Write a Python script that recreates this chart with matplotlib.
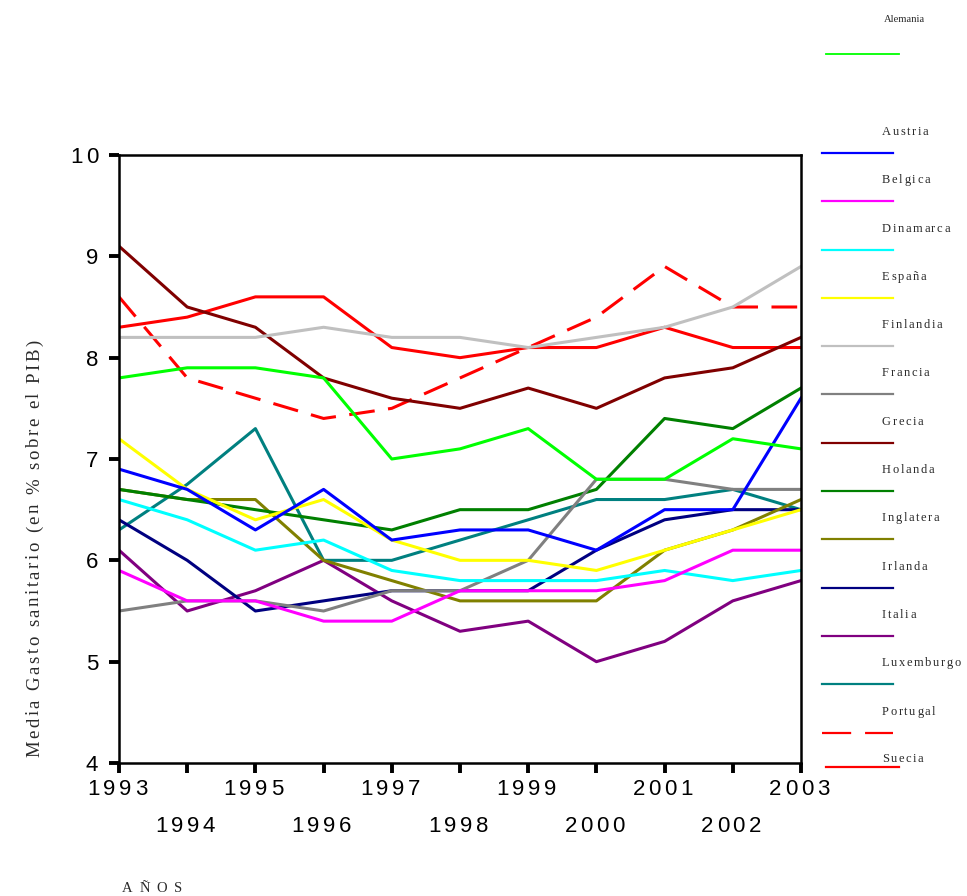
import matplotlib
matplotlib.use("Agg")
import matplotlib.pyplot as plt
from matplotlib import font_manager
from matplotlib.lines import Line2D
import numpy as np

plt.rcParams['font.family'] = ['Liberation Sans', 'DejaVu Sans']
plt.rcParams['lines.scale_dashes'] = False

# datos: gasto sanitario medio (% del PIB), 1993-2003
years = list(range(1993, 2004))
alemania   = [7.8, 7.9, 7.9, 7.8, 7.0, 7.1, 7.3, 6.8, 6.8, 7.2, 7.1]
austria    = [6.9, 6.7, 6.3, 6.7, 6.2, 6.3, 6.3, 6.1, 6.5, 6.5, 7.6]
belgica    = [5.9, 5.6, 5.6, 5.4, 5.4, 5.7, 5.7, 5.7, 5.8, 6.1, 6.1]
dinamarca  = [6.6, 6.4, 6.1, 6.2, 5.9, 5.8, 5.8, 5.8, 5.9, 5.8, 5.9]
espana     = [7.2, 6.7, 6.4, 6.6, 6.2, 6.0, 6.0, 5.9, 6.1, 6.3, 6.5]
finlandia  = [8.2, 8.2, 8.2, 8.3, 8.2, 8.2, 8.1, 8.2, 8.3, 8.5, 8.9]
francia    = [5.5, 5.6, 5.6, 5.5, 5.7, 5.7, 6.0, 6.8, 6.8, 6.7, 6.7]
grecia     = [9.1, 8.5, 8.3, 7.8, 7.6, 7.5, 7.7, 7.5, 7.8, 7.9, 8.2]
holanda    = [6.7, 6.6, 6.5, 6.4, 6.3, 6.5, 6.5, 6.7, 7.4, 7.3, 7.7]
inglatera  = [6.7, 6.6, 6.6, 6.0, 5.8, 5.6, 5.6, 5.6, 6.1, 6.3, 6.6]
irlanda    = [6.4, 6.0, 5.5, 5.6, 5.7, 5.7, 5.7, 6.1, 6.4, 6.5, 6.5]
italia     = [6.1, 5.5, 5.7, 6.0, 5.6, 5.3, 5.4, 5.0, 5.2, 5.6, 5.8]
luxemburgo = [6.3, 6.75, 7.3, 6.0, 6.0, 6.2, 6.4, 6.6, 6.6, 6.7, 6.5]
portugal   = [8.6, 7.8, 7.6, 7.4, 7.5, 7.8, 8.1, 8.4, 8.9, 8.5, 8.5]
suecia     = [8.3, 8.4, 8.6, 8.6, 8.1, 8.0, 8.1, 8.1, 8.3, 8.1, 8.1]

names = ['Alemania', 'Austria', 'Belgica', 'Dinamarca', 'España', 'Finlandia',
         'Francia', 'Grecia', 'Holanda', 'Inglatera', 'Irlanda', 'Italia',
         'Luxemburgo', 'Portugal', 'Suecia']
values = [alemania, austria, belgica, dinamarca, espana, finlandia, francia,
          grecia, holanda, inglatera, irlanda, italia, luxemburgo, portugal, suecia]
colors = ['#00ff00', '#0000ff', '#ff00ff', '#00ffff', '#ffff00', '#c0c0c0',
          '#808080', '#800000', '#008000', '#808000', '#000080', '#800080',
          '#008080', '#ff0000', '#ff0000']
y_ticks = [4, 5, 6, 7, 8, 9, 10]

W, H, DPI = 967, 896, 100
DASH = (18.5, 9.7)


def advances(text, size, family):
    fp = font_manager.FontProperties(family=family, size=size)
    font = font_manager.get_font(font_manager.findfont(fp))
    font.set_size(size, DPI)
    return [font.load_char(ord(ch)).linearHoriAdvance / 65536 for ch in text]


def tracked(fig, x, y, text, size, track=0.0, length=None, vertical=False,
            align='left', family='Liberation Serif', color='#2a2a2a'):
    # texto con espaciado entre letras, coordenadas en pixeles desde arriba
    adv = advances(text, size, family)
    if length is not None:
        track = (length - sum(adv)) / (len(text) - 1)
    total = sum(adv) + track * (len(text) - 1)
    pos = {'left': 0.0, 'center': -total / 2, 'right': -total}[align]
    for ch, a in zip(text, adv):
        if ch != ' ':
            if vertical:
                fig.text(x / W, 1 - (y - pos) / H, ch, rotation=90,
                         rotation_mode='anchor', ha='left', va='baseline',
                         fontsize=size, family=family, color=color)
            else:
                fig.text((x + pos) / W, 1 - y / H, ch, ha='left', va='baseline',
                         fontsize=size, family=family, color=color)
        pos += a + track


fig = plt.figure(figsize=(W / DPI, H / DPI), dpi=DPI)
ax = fig.add_axes([119 / W, 1 - 763 / H, (801 - 119) / W, (763 - 155) / H])

# el primero de la leyenda queda encima
for i in range(len(names) - 1, -1, -1):
    kw = dict(color=colors[i], lw=2.2, zorder=10 + len(names) - i)
    if names[i] == 'Portugal':
        kw['dashes'] = DASH
    ax.plot(years, values[i], **kw)

ax.set_xlim(years[0], years[-1])
ax.set_ylim(y_ticks[0], y_ticks[-1])
ax.set_yticks(y_ticks)
ax.set_xticks(years[::2])
ax.set_xticks(years[1::2], minor=True)
ax.yaxis.set_minor_locator(matplotlib.ticker.NullLocator())

ax.tick_params(axis='both', which='both', direction='out', length=7.5,
               width=2.8, colors='black', labelbottom=False, labelleft=False)
for sp in ax.spines.values():
    sp.set_linewidth(1.8)
    sp.set_color('black')
    sp.set_zorder(50)

# rotulos de las marcas, con espaciado entre cifras
TICK_FONT, TICK_TRACK = 16, 3.5
for v in y_ticks:
    px, py = ax.transData.transform((years[0], v))
    tracked(fig, px - 21, H - py + 8, str(v), TICK_FONT, track=TICK_TRACK,
            align='right', family='Liberation Sans', color='black')
for k, yr in enumerate(years):
    px, py = ax.transData.transform((yr, y_ticks[0]))
    base = H - py + (32 if k % 2 == 0 else 69)
    tracked(fig, px - 2, base, str(yr), TICK_FONT, track=TICK_TRACK,
            align='center', family='Liberation Sans', color='black')

# etiquetas de los ejes
tracked(fig, 39, 757, 'Media Gasto sanitario (en % sobre el PIB)', 13.5,
        length=417, vertical=True)
tracked(fig, 122, 892, 'AÑOS', 10.5, length=60)

# leyenda
fig.text(884 / W, 1 - 22 / H, names[0], fontsize=7.6,
         family='Liberation Serif', color='#2a2a2a', ha='left', va='baseline')
fig.add_artist(Line2D([826 / W, 899 / W], [1 - 54 / H] * 2, color=colors[0],
                      lw=1.3, transform=fig.transFigure))
for k, name in enumerate(names[1:-1]):
    i = k + 1
    ly = 153 + 48.3 * k
    tracked(fig, 882, ly - 18, name, 9, track=1.6)
    kw = dict(color=colors[i], lw=1.6, transform=fig.transFigure)
    if name == 'Portugal':
        kw['dashes'] = (21, 10)
    fig.add_artist(Line2D([822 / W, 893 / W], [1 - ly / H] * 2, **kw))
tracked(fig, 882, 762, names[-1], 9, track=1.6)
fig.add_artist(Line2D([826 / W, 899 / W], [1 - 767 / H] * 2, color=colors[-1],
                      lw=1.6, transform=fig.transFigure))

fig.savefig('out.png', dpi=DPI)
